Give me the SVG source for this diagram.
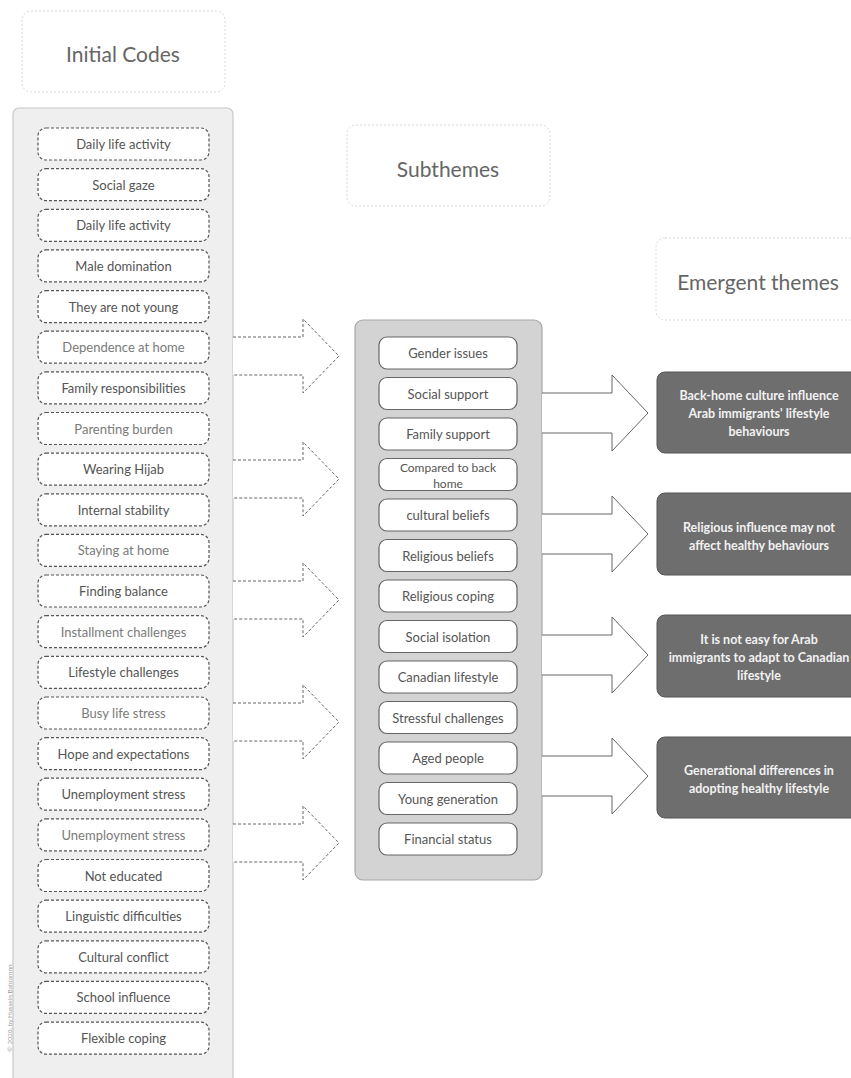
<svg xmlns="http://www.w3.org/2000/svg" width="851" height="1078" viewBox="0 0 851 1078">
<style>
.title{fill:#fff;stroke:#d8d8d8;stroke-width:1;stroke-dasharray:2 2}
.tt{font-family:Lato,"Open Sans","Liberation Sans",sans-serif;font-size:21px;fill:#666;text-anchor:middle;dominant-baseline:central}
.code{fill:#fff;stroke:#555;stroke-width:1.2;stroke-dasharray:3 2}
.ct{font-family:Lato,"Open Sans","Liberation Sans",sans-serif;font-size:13px;fill:#555;text-anchor:middle;dominant-baseline:central}
.lt{fill:#7a7a7a}
.sub{fill:#fff;stroke:#666;stroke-width:1.2}
.st{font-family:Lato,"Open Sans","Liberation Sans",sans-serif;font-size:13px;fill:#555;text-anchor:middle;dominant-baseline:central}
.em{fill:#6e6e6e;stroke:#555;stroke-width:1}
.et{font-family:Lato,"Open Sans","Liberation Sans",sans-serif;font-size:12.5px;font-weight:bold;fill:#f2f2f2;text-anchor:middle;dominant-baseline:central}
.da{fill:#fff;stroke:#666;stroke-width:1;stroke-dasharray:3 2}
.sa{fill:#fff;stroke:#666;stroke-width:1}
</style>
<rect width="851" height="1078" fill="#fff"/>

<g id="title-initial"><rect class="title" x="22" y="11" width="203" height="81" rx="9"/><text class="tt" x="123" y="53">Initial Codes</text></g>
<g id="title-sub"><rect class="title" x="347" y="125" width="203" height="81" rx="9"/><text class="tt" x="448" y="168">Subthemes</text></g>
<g id="title-emergent"><rect class="title" x="656" y="238" width="205" height="82" rx="9"/><text class="tt" x="758" y="281">Emergent themes</text></g>

<g id="codes-container"><rect x="13" y="108" width="220" height="975" rx="6" fill="#efefef" stroke="#c8c8c8" stroke-width="1.2"/></g>
<g id="codes">
<g id="c1"><rect class="code" x="38" y="128" width="171" height="32" rx="8"/><text class="ct" x="123.5" y="144">Daily life activity</text></g>
<g id="c2"><rect class="code" x="38" y="168.6" width="171" height="32" rx="8"/><text class="ct" x="123.5" y="184.6">Social gaze</text></g>
<g id="c3"><rect class="code" x="38" y="209.3" width="171" height="32" rx="8"/><text class="ct" x="123.5" y="225.3">Daily life activity</text></g>
<g id="c4"><rect class="code" x="38" y="249.9" width="171" height="32" rx="8"/><text class="ct" x="123.5" y="265.9">Male domination</text></g>
<g id="c5"><rect class="code" x="38" y="290.6" width="171" height="32" rx="8"/><text class="ct" x="123.5" y="306.6">They are not young</text></g>
<g id="c6"><rect class="code" x="38" y="331.2" width="171" height="32" rx="8"/><text class="ct lt" x="123.5" y="347.2">Dependence at home</text></g>
<g id="c7"><rect class="code" x="38" y="371.8" width="171" height="32" rx="8"/><text class="ct" x="123.5" y="387.8">Family responsibilities</text></g>
<g id="c8"><rect class="code" x="38" y="412.5" width="171" height="32" rx="8"/><text class="ct lt" x="123.5" y="428.5">Parenting burden</text></g>
<g id="c9"><rect class="code" x="38" y="453.1" width="171" height="32" rx="8"/><text class="ct" x="123.5" y="469.1">Wearing Hijab</text></g>
<g id="c10"><rect class="code" x="38" y="493.8" width="171" height="32" rx="8"/><text class="ct" x="123.5" y="509.8">Internal stability</text></g>
<g id="c11"><rect class="code" x="38" y="534.4" width="171" height="32" rx="8"/><text class="ct lt" x="123.5" y="550.4">Staying at home</text></g>
<g id="c12"><rect class="code" x="38" y="575" width="171" height="32" rx="8"/><text class="ct" x="123.5" y="591">Finding balance</text></g>
<g id="c13"><rect class="code" x="38" y="615.7" width="171" height="32" rx="8"/><text class="ct lt" x="123.5" y="631.7">Installment challenges</text></g>
<g id="c14"><rect class="code" x="38" y="656.3" width="171" height="32" rx="8"/><text class="ct" x="123.5" y="672.3">Lifestyle challenges</text></g>
<g id="c15"><rect class="code" x="38" y="697" width="171" height="32" rx="8"/><text class="ct lt" x="123.5" y="713">Busy life stress</text></g>
<g id="c16"><rect class="code" x="38" y="737.6" width="171" height="32" rx="8"/><text class="ct" x="123.5" y="753.6">Hope and expectations</text></g>
<g id="c17"><rect class="code" x="38" y="778.2" width="171" height="32" rx="8"/><text class="ct" x="123.5" y="794.2">Unemployment stress</text></g>
<g id="c18"><rect class="code" x="38" y="818.9" width="171" height="32" rx="8"/><text class="ct lt" x="123.5" y="834.9">Unemployment stress</text></g>
<g id="c19"><rect class="code" x="38" y="859.5" width="171" height="32" rx="8"/><text class="ct" x="123.5" y="875.5">Not educated</text></g>
<g id="c20"><rect class="code" x="38" y="900.2" width="171" height="32" rx="8"/><text class="ct" x="123.5" y="916.2">Linguistic difficulties</text></g>
<g id="c21"><rect class="code" x="38" y="940.8" width="171" height="32" rx="8"/><text class="ct" x="123.5" y="956.8">Cultural conflict</text></g>
<g id="c22"><rect class="code" x="38" y="981.4" width="171" height="32" rx="8"/><text class="ct" x="123.5" y="997.4">School influence</text></g>
<g id="c23"><rect class="code" x="38" y="1022.1" width="171" height="32" rx="8"/><text class="ct" x="123.5" y="1038.1">Flexible coping</text></g>
</g>

<g id="sub-container"><rect x="355" y="320" width="187" height="560" rx="8" fill="#d3d3d3" stroke="#a8a8a8" stroke-width="1.2"/></g>
<g id="subthemes">
<g id="s1"><rect class="sub" x="379" y="337" width="138" height="32" rx="8"/><text class="st" x="448" y="353">Gender issues</text></g>
<g id="s2"><rect class="sub" x="379" y="377.5" width="138" height="32" rx="8"/><text class="st" x="448" y="393.5">Social support</text></g>
<g id="s3"><rect class="sub" x="379" y="418" width="138" height="32" rx="8"/><text class="st" x="448" y="434">Family support</text></g>
<g id="s4"><rect class="sub" x="379" y="458.5" width="138" height="32" rx="8"/><text class="st" x="448" y="467" style="font-size:12px">Compared to back</text><text class="st" x="448" y="483" style="font-size:12px">home</text></g>
<g id="s5"><rect class="sub" x="379" y="499" width="138" height="32" rx="8"/><text class="st" x="448" y="515">cultural beliefs</text></g>
<g id="s6"><rect class="sub" x="379" y="539.5" width="138" height="32" rx="8"/><text class="st" x="448" y="555.5">Religious beliefs</text></g>
<g id="s7"><rect class="sub" x="379" y="580" width="138" height="32" rx="8"/><text class="st" x="448" y="596">Religious coping</text></g>
<g id="s8"><rect class="sub" x="379" y="620.5" width="138" height="32" rx="8"/><text class="st" x="448" y="636.5">Social isolation</text></g>
<g id="s9"><rect class="sub" x="379" y="661" width="138" height="32" rx="8"/><text class="st" x="448" y="677">Canadian lifestyle</text></g>
<g id="s10"><rect class="sub" x="379" y="701.5" width="138" height="32" rx="8"/><text class="st" x="448" y="717.5">Stressful challenges</text></g>
<g id="s11"><rect class="sub" x="379" y="742" width="138" height="32" rx="8"/><text class="st" x="448" y="758">Aged people</text></g>
<g id="s12"><rect class="sub" x="379" y="782.5" width="138" height="32" rx="8"/><text class="st" x="448" y="798.5">Young generation</text></g>
<g id="s13"><rect class="sub" x="379" y="823" width="138" height="32" rx="8"/><text class="st" x="448" y="839">Financial status</text></g>
</g>

<g id="connectors">
<path class="da" d="M233,337 H303 V319 L339,356 L303,393 V375 H233"/>
<path class="da" d="M233,460 H303 V442 L339,479 L303,516 V498 H233"/>
<path class="da" d="M233,581 H303 V563 L339,600 L303,637 V619 H233"/>
<path class="da" d="M233,703 H303 V685 L339,722 L303,759 V741 H233"/>
<path class="da" d="M233,824 H303 V806 L339,843 L303,880 V862 H233"/>
<path class="sa" d="M542,393 H612 V375 L648,413 L612,451 V433 H542"/>
<path class="sa" d="M542,514 H612 V496 L648,534 L612,572 V554 H542"/>
<path class="sa" d="M542,635 H612 V617 L648,655 L612,693 V675 H542"/>
<path class="sa" d="M542,756 H612 V738 L648,776 L612,814 V796 H542"/>
</g>

<g id="themes">
<g id="e1"><rect class="em" x="657" y="372" width="204" height="81" rx="8"/><text class="et" x="759" y="395">Back-home culture influence</text><text class="et" x="759" y="413">Arab immigrants' lifestyle</text><text class="et" x="759" y="431">behaviours</text></g>
<g id="e2"><rect class="em" x="657" y="493" width="204" height="82" rx="8"/><text class="et" x="759" y="527">Religious influence may not</text><text class="et" x="759" y="545">affect healthy behaviours</text></g>
<g id="e3"><rect class="em" x="657" y="615" width="204" height="82" rx="8"/><text class="et" x="759" y="639">It is not easy for Arab</text><text class="et" x="759" y="657">immigrants to adapt to Canadian</text><text class="et" x="759" y="675">lifestyle</text></g>
<g id="e4"><rect class="em" x="657" y="737" width="204" height="81" rx="8"/><text class="et" x="759" y="770">Generational differences in</text><text class="et" x="759" y="788">adopting healthy lifestyle</text></g>
</g>

<text x="9" y="1008" transform="rotate(-90 9 1008)" font-family="Lato,'Liberation Sans',sans-serif" font-size="6.5" fill="#999" text-anchor="middle" dominant-baseline="central">© 2020, by Hussein Bahramnn</text>
</svg>
